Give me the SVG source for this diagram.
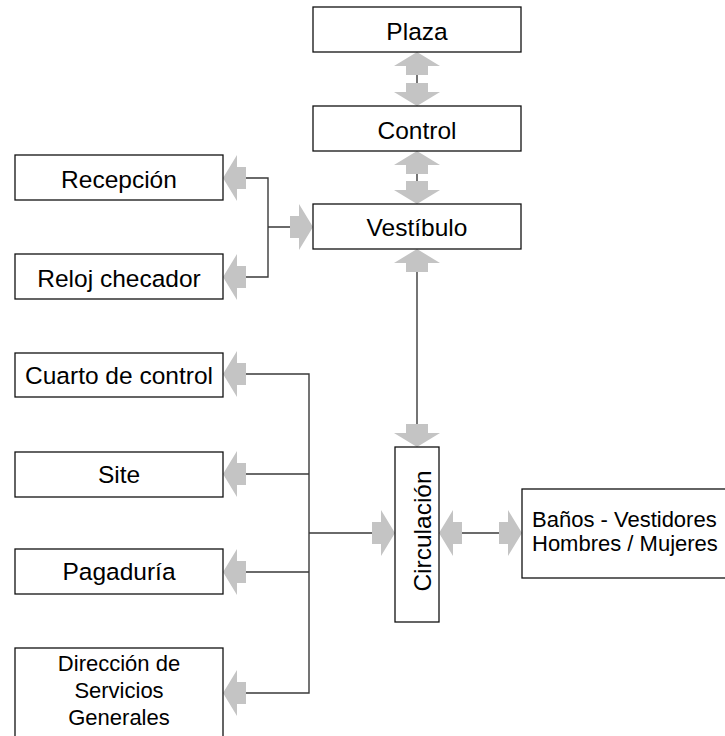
<svg xmlns="http://www.w3.org/2000/svg" width="725" height="736" viewBox="0 0 725 736">
  <style>
    .box { fill: #ffffff; stroke: #111111; stroke-width: 1.3; }
    .lbl { font-family: "Liberation Sans", Arial, sans-serif; font-size: 24.5px; fill: #000000; text-anchor: middle; }
    .sm { font-size: 22px; }
    .bn { font-size: 22px; text-anchor: start; }
    .wire { fill: none; stroke: #3a3a3a; stroke-width: 1.4; }
    .arr { fill: #c4c4c4; }
  </style>
  <defs>
    <!-- block arrow pointing right, tip at the origin -->
    <path id="blk" class="arr" d="M0,0 L-14,-23 L-14,-11 L-23,-11 L-23,11 L-14,11 L-14,23 Z"/>
  </defs>

  <g id="connectors">
    <path class="wire" d="M417,74 V84"/>
    <path class="wire" d="M417,173 V182"/>
    <path class="wire" d="M417,271 V425"/>
    <path class="wire" d="M245,178 H268 V277 H245 M268,227 H291"/>
    <path class="wire" d="M245,374 H309 V693 H245 M245,474 H309 M245,572 H309 M309,533 H373"/>
    <path class="wire" d="M461,533 H500"/>

    <use href="#blk" transform="translate(417,52) rotate(-90)"/>
    <use href="#blk" transform="translate(417,106) rotate(90)"/>
    <use href="#blk" transform="translate(417,151) rotate(-90)"/>
    <use href="#blk" transform="translate(417,204) rotate(90)"/>
    <use href="#blk" transform="translate(417,249) rotate(-90)"/>
    <use href="#blk" transform="translate(417,447) rotate(90)"/>
    <use href="#blk" transform="translate(223,178) rotate(180)"/>
    <use href="#blk" transform="translate(223,277) rotate(180)"/>
    <use href="#blk" transform="translate(313,227)"/>
    <use href="#blk" transform="translate(223,374) rotate(180)"/>
    <use href="#blk" transform="translate(223,474) rotate(180)"/>
    <use href="#blk" transform="translate(223,572) rotate(180)"/>
    <use href="#blk" transform="translate(223,693) rotate(180)"/>
    <use href="#blk" transform="translate(395,533)"/>
    <use href="#blk" transform="translate(439,533) rotate(180)"/>
    <use href="#blk" transform="translate(522,533)"/>
  </g>

  <g id="plaza">
    <rect class="box" x="313" y="7" width="208" height="45"/>
    <text class="lbl" x="417" y="40">Plaza</text>
  </g>
  <g id="control">
    <rect class="box" x="313" y="106" width="208" height="45"/>
    <text class="lbl" x="417" y="139">Control</text>
  </g>
  <g id="vestibulo">
    <rect class="box" x="313" y="204" width="208" height="45"/>
    <text class="lbl" x="417" y="236">Vestíbulo</text>
  </g>
  <g id="recepcion">
    <rect class="box" x="15" y="155" width="208" height="45"/>
    <text class="lbl" x="119" y="188">Recepción</text>
  </g>
  <g id="reloj-checador">
    <rect class="box" x="15" y="254" width="208" height="45"/>
    <text class="lbl" x="119" y="287">Reloj checador</text>
  </g>
  <g id="cuarto-de-control">
    <rect class="box" x="15" y="353" width="208" height="44"/>
    <text class="lbl" x="119" y="384">Cuarto de control</text>
  </g>
  <g id="site">
    <rect class="box" x="15" y="452" width="208" height="45"/>
    <text class="lbl" x="119" y="483">Site</text>
  </g>
  <g id="pagaduria">
    <rect class="box" x="15" y="549" width="208" height="45"/>
    <text class="lbl" x="119" y="580">Pagaduría</text>
  </g>
  <g id="direccion">
    <rect class="box" x="15" y="648" width="208" height="91"/>
    <text class="lbl sm" x="119" y="671">Dirección de</text>
    <text class="lbl sm" x="119" y="698">Servicios</text>
    <text class="lbl sm" x="119" y="725">Generales</text>
  </g>
  <g id="circulacion">
    <rect class="box" x="395" y="447" width="44" height="175"/>
    <text class="lbl" transform="translate(431,531) rotate(-90)">Circulación</text>
  </g>
  <g id="banos">
    <rect class="box" x="522" y="489" width="206" height="89"/>
    <text class="lbl bn" x="532" y="527">Baños - Vestidores</text>
    <text class="lbl bn" x="532" y="551">Hombres / Mujeres</text>
  </g>
</svg>
